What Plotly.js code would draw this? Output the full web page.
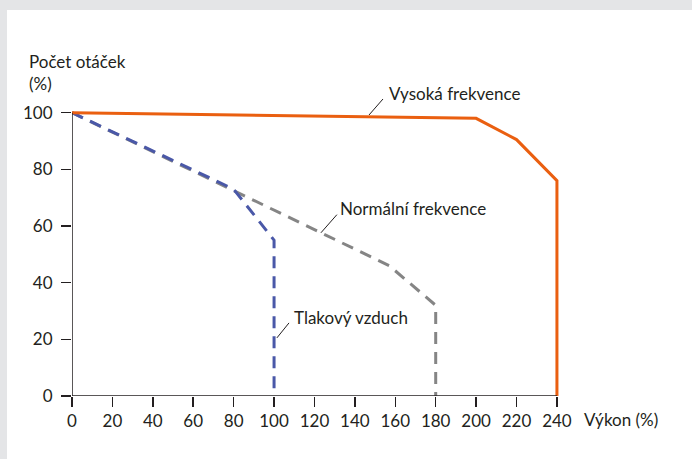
<!DOCTYPE html>
<html>
<head>
<meta charset="utf-8">
<script src="https://cdn.plot.ly/plotly-3.0.1.min.js"></script>
<style>
html,body{margin:0;padding:0;background:#e4e5e7;width:692px;height:459px;overflow:hidden;}
#chart{position:absolute;left:7px;top:10px;width:685px;height:449px;background:#fff;}
</style>
</head>
<body>
<div id="chart"></div>
<script>
// Data
const highX = [0, 200, 220, 240, 240];
const highY = [100, 98, 90.5, 76, 0];
const normalX = [0, 80, 157, 180, 180];
const normalY = [100, 72.5, 46, 32, 0];
const airX = [0, 80, 100, 100];
const airY = [100, 73, 55, 0];
const xTicks = [0, 20, 40, 60, 80, 100, 120, 140, 160, 180, 200, 220, 240];
const yTicks = [0, 20, 40, 60, 80, 100];
const labelHigh = "Vysoká frekvence";
const labelNormal = "Normální frekvence";
const labelAir = "Tlakový vzduch";
const yTitle1 = "Počet otáček";
const yTitle2 = "(%)";
const xTitle = "Výkon (%)";

const ink = "#231f20";
const font = {family: "Lato, 'Open Sans', sans-serif", size: 17, color: ink};

const traces = [
  {x: normalX, y: normalY, mode: "lines", line: {color: "#858585", width: 3, dash: "12px,8px"}, hoverinfo: "skip"},
  {x: airX, y: airY, mode: "lines", line: {color: "#4a58a8", width: 3, dash: "12px,8px"}, hoverinfo: "skip"},
  {x: highX, y: highY, mode: "lines", line: {color: "#ea5f10", width: 3}, hoverinfo: "skip"}
];

const leader = (xref, yref, x0, y0, x1, y1) => ({type: "line", xref, yref, x0, y0, x1, y1, line: {color: ink, width: 1}});
const note = (x, y, text) => ({xref: "paper", yref: "paper", x, y, text, showarrow: false, xanchor: "left", yanchor: "middle", font: font});

const layout = {
  width: 685, height: 449,
  margin: {l: 65, r: 129, t: 97, b: 63},
  paper_bgcolor: "#ffffff", plot_bgcolor: "#ffffff",
  showlegend: false,
  font: font,
  xaxis: {range: [0, 243], tickvals: xTicks, ticktext: xTicks.map(String), ticks: "outside", ticklen: 10, tickwidth: 1.5, tickcolor: ink,
          showgrid: false, zeroline: false, showline: false, tickfont: font, fixedrange: true},
  yaxis: {range: [0, 102], tickvals: yTicks, ticktext: yTicks.map(String), ticks: "outside", ticklen: 10, tickwidth: 1.5, tickcolor: ink,
          showgrid: false, zeroline: false, showline: false, tickfont: font, fixedrange: true, ticklabelstandoff: 5},
  shapes: [
    {type: "line", xref: "x", yref: "y", x0: 0, y0: 0, x1: 240, y1: 0, line: {color: ink, width: 1.5}, layer: "above"},
    {type: "line", xref: "x", yref: "y", x0: 0, y0: 0, x1: 0, y1: 100, line: {color: ink, width: 1.5}, layer: "above"},
    leader("paper", "paper", 0.6049, 0.9723, 0.6334, 1.0277),
    leader("x", "y", 123.2, 57.6, 131.1, 64.0),
    leader("x", "y", 101.4, 20.5, 107.4, 25.8)
  ],
  annotations: [
    note(0.6415, 1.048, labelHigh),
    note((338 - 72) / 491, (396 - 208) / 289, labelNormal),
    note((292 - 72) / 491, (396 - 317) / 289, labelAir),
    note(-0.0916, 1.156, yTitle1),
    note(-0.0916, 1.080, yTitle2),
    note(1.0387, -0.0796, xTitle)
  ]
};

Plotly.newPlot("chart", traces, layout, {displayModeBar: false, staticPlot: true});
</script>
</body>
</html>
